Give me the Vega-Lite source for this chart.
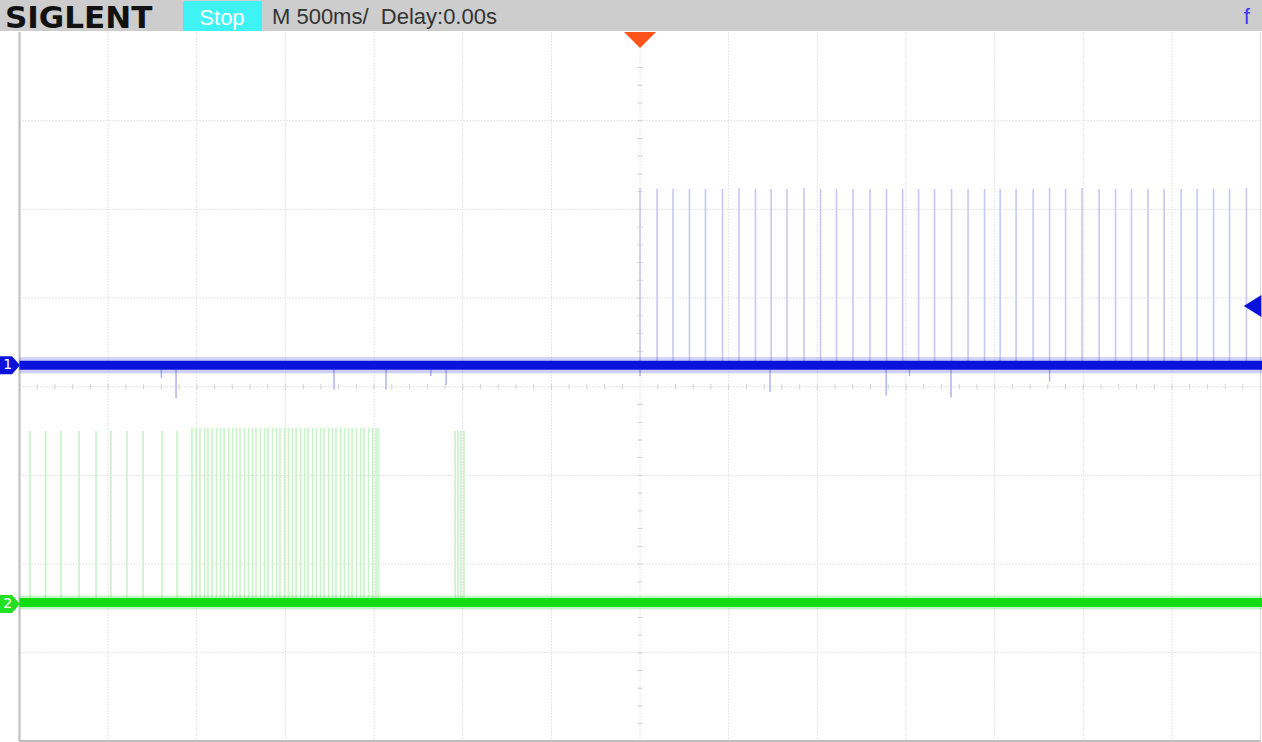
{
  "$schema": "https://vega.github.io/schema/vega-lite/v6.json",
  "width": 1262,
  "height": 742,
  "autosize": {"type": "fit", "contains": "padding"},
  "padding": 0,
  "background": "white",
  "config": {"view": {"stroke": null}},
  "datasets": {
    "vgrid": [{"t": -3.0}, {"t": -2.5}, {"t": -2.0}, {"t": -1.5}, {"t": -1.0}, {"t": -0.5}, {"t": 0.0}, {"t": 0.5}, {"t": 1.0}, {"t": 1.5}, {"t": 2.0}, {"t": 2.5}, {"t": 3.0}],
    "hgrid": [{"v": -3}, {"v": -2}, {"v": -1}, {"v": 0}, {"v": 1}, {"v": 2}, {"v": 3}],
    "xminor": [{"t": -3.4}, {"t": -3.3}, {"t": -3.2}, {"t": -3.1}, {"t": -3.0}, {"t": -2.9}, {"t": -2.8}, {"t": -2.7}, {"t": -2.6}, {"t": -2.5}, {"t": -2.4}, {"t": -2.3}, {"t": -2.2}, {"t": -2.1}, {"t": -2.0}, {"t": -1.9}, {"t": -1.8}, {"t": -1.7}, {"t": -1.6}, {"t": -1.5}, {"t": -1.4}, {"t": -1.3}, {"t": -1.2}, {"t": -1.1}, {"t": -1.0}, {"t": -0.9}, {"t": -0.8}, {"t": -0.7}, {"t": -0.6}, {"t": -0.5}, {"t": -0.4}, {"t": -0.3}, {"t": -0.2}, {"t": -0.1}, {"t": 0.1}, {"t": 0.2}, {"t": 0.3}, {"t": 0.4}, {"t": 0.5}, {"t": 0.6}, {"t": 0.7}, {"t": 0.8}, {"t": 0.9}, {"t": 1.0}, {"t": 1.1}, {"t": 1.2}, {"t": 1.3}, {"t": 1.4}, {"t": 1.5}, {"t": 1.6}, {"t": 1.7}, {"t": 1.8}, {"t": 1.9}, {"t": 2.0}, {"t": 2.1}, {"t": 2.2}, {"t": 2.3}, {"t": 2.4}, {"t": 2.5}, {"t": 2.6}, {"t": 2.7}, {"t": 2.8}, {"t": 2.9}, {"t": 3.0}, {"t": 3.1}, {"t": 3.2}, {"t": 3.3}, {"t": 3.4}],
    "yminor": [{"v": -3.8}, {"v": -3.6}, {"v": -3.4}, {"v": -3.2}, {"v": -3.0}, {"v": -2.8}, {"v": -2.6}, {"v": -2.4}, {"v": -2.2}, {"v": -2.0}, {"v": -1.8}, {"v": -1.6}, {"v": -1.4}, {"v": -1.2}, {"v": -1.0}, {"v": -0.8}, {"v": -0.6}, {"v": -0.4}, {"v": -0.2}, {"v": 0.2}, {"v": 0.4}, {"v": 0.6}, {"v": 0.8}, {"v": 1.0}, {"v": 1.2}, {"v": 1.4}, {"v": 1.6}, {"v": 1.8}, {"v": 2.0}, {"v": 2.2}, {"v": 2.4}, {"v": 2.6}, {"v": 2.8}, {"v": 3.0}, {"v": 3.2}, {"v": 3.4}, {"v": 3.6}],
    "traces": [{"ch": "1", "level": 0.243}, {"ch": "2", "level": -2.432}],
    "ch1": [
      {"t": 0.000, "peak": 2.24}, {"t": 0.096, "peak": 2.23}, {"t": 0.186, "peak": 2.23}, {"t": 0.279, "peak": 2.23},
      {"t": 0.369, "peak": 2.23}, {"t": 0.465, "peak": 2.23}, {"t": 0.558, "peak": 2.24}, {"t": 0.651, "peak": 2.23},
      {"t": 0.739, "peak": 2.23}, {"t": 0.829, "peak": 2.23}, {"t": 0.925, "peak": 2.24}, {"t": 1.018, "peak": 2.23},
      {"t": 1.108, "peak": 2.23}, {"t": 1.201, "peak": 2.23}, {"t": 1.297, "peak": 2.23}, {"t": 1.390, "peak": 2.23},
      {"t": 1.481, "peak": 2.23}, {"t": 1.571, "peak": 2.23}, {"t": 1.661, "peak": 2.23}, {"t": 1.757, "peak": 2.23},
      {"t": 1.850, "peak": 2.23}, {"t": 1.943, "peak": 2.23}, {"t": 2.031, "peak": 2.23}, {"t": 2.121, "peak": 2.23},
      {"t": 2.217, "peak": 2.23}, {"t": 2.310, "peak": 2.24}, {"t": 2.400, "peak": 2.23}, {"t": 2.493, "peak": 2.24},
      {"t": 2.589, "peak": 2.23}, {"t": 2.682, "peak": 2.23}, {"t": 2.772, "peak": 2.23}, {"t": 2.865, "peak": 2.23},
      {"t": 2.956, "peak": 2.23}, {"t": 3.052, "peak": 2.23}, {"t": 3.142, "peak": 2.23}, {"t": 3.235, "peak": 2.23},
      {"t": 3.325, "peak": 2.23}, {"t": 3.420, "peak": 2.24}
    ],
    "glitch1": [
      {"t": -2.617, "low": -0.13}, {"t": -2.70, "low": 0.10}, {"t": -1.726, "low": -0.03}, {"t": -1.433, "low": -0.03},
      {"t": -1.094, "low": 0.02}, {"t": -1.18, "low": 0.12}, {"t": 0.733, "low": -0.06}, {"t": 1.388, "low": -0.10},
      {"t": 1.754, "low": -0.12}, {"t": 2.31, "low": 0.06}, {"t": 0.0, "low": 0.12}, {"t": 1.52, "low": 0.12}
    ],
    "ch2": [
      {"t": -3.441, "peak": -0.499}, {"t": -3.353, "peak": -0.499}, {"t": -3.266, "peak": -0.499}, {"t": -3.164, "peak": -0.499},
      {"t": -3.068, "peak": -0.499}, {"t": -2.984, "peak": -0.499}, {"t": -2.894, "peak": -0.499}, {"t": -2.803, "peak": -0.499},
      {"t": -2.696, "peak": -0.499}, {"t": -2.612, "peak": -0.499},
      {"t": -2.527, "peak": -0.463}, {"t": -2.504, "peak": -0.463}, {"t": -2.482, "peak": -0.463}, {"t": -2.456, "peak": -0.463},
      {"t": -2.437, "peak": -0.463}, {"t": -2.414, "peak": -0.463}, {"t": -2.389, "peak": -0.463}, {"t": -2.366, "peak": -0.463},
      {"t": -2.346, "peak": -0.463}, {"t": -2.321, "peak": -0.463}, {"t": -2.298, "peak": -0.463}, {"t": -2.276, "peak": -0.463},
      {"t": -2.256, "peak": -0.463}, {"t": -2.231, "peak": -0.463}, {"t": -2.208, "peak": -0.463}, {"t": -2.186, "peak": -0.463},
      {"t": -2.166, "peak": -0.463}, {"t": -2.141, "peak": -0.463}, {"t": -2.118, "peak": -0.463}, {"t": -2.098, "peak": -0.463},
      {"t": -2.073, "peak": -0.463}, {"t": -2.050, "peak": -0.463}, {"t": -2.031, "peak": -0.463}, {"t": -2.005, "peak": -0.463},
      {"t": -1.983, "peak": -0.463}, {"t": -1.960, "peak": -0.463}, {"t": -1.940, "peak": -0.463}, {"t": -1.915, "peak": -0.463},
      {"t": -1.892, "peak": -0.463}, {"t": -1.873, "peak": -0.463}, {"t": -1.847, "peak": -0.463}, {"t": -1.825, "peak": -0.463},
      {"t": -1.802, "peak": -0.463}, {"t": -1.782, "peak": -0.463}, {"t": -1.757, "peak": -0.463}, {"t": -1.734, "peak": -0.463},
      {"t": -1.715, "peak": -0.463}, {"t": -1.689, "peak": -0.463}, {"t": -1.667, "peak": -0.463}, {"t": -1.644, "peak": -0.463},
      {"t": -1.624, "peak": -0.463}, {"t": -1.599, "peak": -0.463}, {"t": -1.576, "peak": -0.463}, {"t": -1.557, "peak": -0.463},
      {"t": -1.531, "peak": -0.463}, {"t": -1.509, "peak": -0.463}, {"t": -1.489, "peak": -0.463}, {"t": -1.475, "peak": -0.463},
      {"t": -1.043, "peak": -0.499}, {"t": -1.027, "peak": -0.499}, {"t": -1.010, "peak": -0.499}, {"t": -0.993, "peak": -0.499}
    ]
  },
  "layer": [
    {
      "data": {"name": "vgrid"},
      "mark": {"type": "rule", "color": "#cbcbcb", "strokeWidth": 1, "strokeDash": [1, 2], "clip": true},
      "encoding": {
        "x": {"field": "t", "type": "quantitative", "scale": {"domain": [-3.61, 3.508], "nice": false, "zero": false}, "axis": null},
        "y": {"datum": -4, "type": "quantitative", "scale": {"domain": [-4.006, 4.361], "nice": false, "zero": false}, "axis": null},
        "y2": {"datum": 4}
      }
    },
    {
      "data": {"name": "hgrid"},
      "mark": {"type": "rule", "color": "#cbcbcb", "strokeWidth": 1, "strokeDash": [1, 2], "clip": true},
      "encoding": {
        "x": {"datum": -3.5, "type": "quantitative", "scale": {"domain": [-3.61, 3.508], "nice": false, "zero": false}, "axis": null},
        "x2": {"datum": 3.5},
        "y": {"field": "v", "type": "quantitative", "scale": {"domain": [-4.006, 4.361], "nice": false, "zero": false}, "axis": null}
      }
    },
    {
      "data": {"name": "xminor"},
      "mark": {"type": "rule", "color": "#d2d2d2", "strokeWidth": 1, "clip": true},
      "encoding": {
        "x": {"field": "t", "type": "quantitative", "scale": {"domain": [-3.61, 3.508], "nice": false, "zero": false}, "axis": null},
        "y": {"datum": -0.03, "type": "quantitative", "scale": {"domain": [-4.006, 4.361], "nice": false, "zero": false}, "axis": null},
        "y2": {"datum": 0.03}
      }
    },
    {
      "data": {"name": "yminor"},
      "mark": {"type": "rule", "color": "#d2d2d2", "strokeWidth": 1, "clip": true},
      "encoding": {
        "x": {"datum": -0.015, "type": "quantitative", "scale": {"domain": [-3.61, 3.508], "nice": false, "zero": false}, "axis": null},
        "x2": {"datum": 0.015},
        "y": {"field": "v", "type": "quantitative", "scale": {"domain": [-4.006, 4.361], "nice": false, "zero": false}, "axis": null}
      }
    },
    {
      "data": {"values": [{"a": 1}]},
      "mark": {"type": "rule", "color": "#bdbdbd", "strokeWidth": 2, "clip": true},
      "encoding": {
        "x": {"datum": -3.5, "type": "quantitative", "scale": {"domain": [-3.61, 3.508], "nice": false, "zero": false}, "axis": null},
        "y": {"datum": -4, "type": "quantitative", "scale": {"domain": [-4.006, 4.361], "nice": false, "zero": false}, "axis": null},
        "y2": {"datum": 4}
      }
    },
    {
      "data": {"values": [{"a": 1}]},
      "mark": {"type": "rule", "color": "#bdbdbd", "strokeWidth": 2, "clip": true},
      "encoding": {
        "x": {"datum": -3.5, "type": "quantitative", "scale": {"domain": [-3.61, 3.508], "nice": false, "zero": false}, "axis": null},
        "x2": {"datum": 3.5},
        "y": {"datum": -3.995, "type": "quantitative", "scale": {"domain": [-4.006, 4.361], "nice": false, "zero": false}, "axis": null}
      }
    },
    {
      "data": {"values": [{"a": 1}]},
      "mark": {"type": "rule", "color": "#d6d6d6", "strokeWidth": 1, "clip": true},
      "encoding": {
        "x": {"datum": 3.5, "type": "quantitative", "scale": {"domain": [-3.61, 3.508], "nice": false, "zero": false}, "axis": null},
        "y": {"datum": -4, "type": "quantitative", "scale": {"domain": [-4.006, 4.361], "nice": false, "zero": false}, "axis": null},
        "y2": {"datum": 4}
      }
    },
    {
      "data": {"name": "ch2"},
      "mark": {"type": "rule", "color": "#c6f4c6", "strokeWidth": 1.6, "clip": true},
      "encoding": {
        "x": {"field": "t", "type": "quantitative", "scale": {"domain": [-3.61, 3.508], "nice": false, "zero": false}, "axis": null},
        "y": {"field": "peak", "type": "quantitative", "scale": {"domain": [-4.006, 4.361], "nice": false, "zero": false}, "axis": null},
        "y2": {"datum": -2.432}
      }
    },
    {
      "data": {"name": "ch1"},
      "mark": {"type": "rule", "color": "#c6c8f5", "strokeWidth": 1.6, "clip": true},
      "encoding": {
        "x": {"field": "t", "type": "quantitative", "scale": {"domain": [-3.61, 3.508], "nice": false, "zero": false}, "axis": null},
        "y": {"field": "peak", "type": "quantitative", "scale": {"domain": [-4.006, 4.361], "nice": false, "zero": false}, "axis": null},
        "y2": {"datum": 0.243}
      }
    },
    {
      "data": {"name": "glitch1"},
      "mark": {"type": "rule", "color": "#a9acf0", "strokeWidth": 1.4, "clip": true},
      "encoding": {
        "x": {"field": "t", "type": "quantitative", "scale": {"domain": [-3.61, 3.508], "nice": false, "zero": false}, "axis": null},
        "y": {"field": "low", "type": "quantitative", "scale": {"domain": [-4.006, 4.361], "nice": false, "zero": false}, "axis": null},
        "y2": {"datum": 0.243}
      }
    },
    {
      "data": {"name": "traces"},
      "transform": [{"filter": "datum.ch == '1'"}],
      "mark": {"type": "rule", "color": "#3d44ea", "strokeWidth": 16, "opacity": 0.25, "clip": true},
      "encoding": {
        "x": {"datum": -3.5, "type": "quantitative", "scale": {"domain": [-3.61, 3.508], "nice": false, "zero": false}, "axis": null},
        "x2": {"datum": 3.508},
        "y": {"field": "level", "type": "quantitative", "scale": {"domain": [-4.006, 4.361], "nice": false, "zero": false}, "axis": null}
      }
    },
    {
      "data": {"name": "traces"},
      "transform": [{"filter": "datum.ch == '1'"}],
      "mark": {"type": "rule", "color": "#0a12dc", "strokeWidth": 9, "clip": true},
      "encoding": {
        "x": {"datum": -3.5, "type": "quantitative", "scale": {"domain": [-3.61, 3.508], "nice": false, "zero": false}, "axis": null},
        "x2": {"datum": 3.508},
        "y": {"field": "level", "type": "quantitative", "scale": {"domain": [-4.006, 4.361], "nice": false, "zero": false}, "axis": null}
      }
    },
    {
      "data": {"name": "traces"},
      "transform": [{"filter": "datum.ch == '2'"}],
      "mark": {"type": "rule", "color": "#3fe33f", "strokeWidth": 14, "opacity": 0.3, "clip": true},
      "encoding": {
        "x": {"datum": -3.5, "type": "quantitative", "scale": {"domain": [-3.61, 3.508], "nice": false, "zero": false}, "axis": null},
        "x2": {"datum": 3.508},
        "y": {"field": "level", "type": "quantitative", "scale": {"domain": [-4.006, 4.361], "nice": false, "zero": false}, "axis": null}
      }
    },
    {
      "data": {"name": "traces"},
      "transform": [{"filter": "datum.ch == '2'"}],
      "mark": {"type": "rule", "color": "#14dc14", "strokeWidth": 9, "clip": true},
      "encoding": {
        "x": {"datum": -3.5, "type": "quantitative", "scale": {"domain": [-3.61, 3.508], "nice": false, "zero": false}, "axis": null},
        "x2": {"datum": 3.508},
        "y": {"field": "level", "type": "quantitative", "scale": {"domain": [-4.006, 4.361], "nice": false, "zero": false}, "axis": null}
      }
    },
    {
      "data": {"values": [{"ch": "1", "level": 0.243}]},
      "mark": {"type": "point", "shape": "M-1,-0.9L0.2,-0.9L1,0L0.2,0.9L-1,0.9Z", "filled": true, "color": "#0a12dc", "size": 400, "opacity": 1, "clip": true},
      "encoding": {
        "x": {"datum": -3.5535, "type": "quantitative", "scale": {"domain": [-3.61, 3.508], "nice": false, "zero": false}, "axis": null},
        "y": {"field": "level", "type": "quantitative", "scale": {"domain": [-4.006, 4.361], "nice": false, "zero": false}, "axis": null}
      }
    },
    {
      "data": {"values": [{"ch": "2", "level": -2.45}]},
      "mark": {"type": "point", "shape": "M-1,-0.9L0.2,-0.9L1,0L0.2,0.9L-1,0.9Z", "filled": true, "color": "#22e022", "size": 400, "opacity": 1, "clip": true},
      "encoding": {
        "x": {"datum": -3.5535, "type": "quantitative", "scale": {"domain": [-3.61, 3.508], "nice": false, "zero": false}, "axis": null},
        "y": {"field": "level", "type": "quantitative", "scale": {"domain": [-4.006, 4.361], "nice": false, "zero": false}, "axis": null}
      }
    },
    {
      "data": {"values": [{"ch": "1", "level": 0.243}, {"ch": "2", "level": -2.45}]},
      "mark": {"type": "text", "color": "white", "font": "DejaVu Sans", "fontSize": 14, "align": "center", "baseline": "middle"},
      "encoding": {
        "x": {"datum": -3.566, "type": "quantitative", "scale": {"domain": [-3.61, 3.508], "nice": false, "zero": false}, "axis": null},
        "y": {"field": "level", "type": "quantitative", "scale": {"domain": [-4.006, 4.361], "nice": false, "zero": false}, "axis": null},
        "text": {"field": "ch"}
      }
    },
    {
      "data": {"values": [{"level": 0.911}]},
      "mark": {"type": "point", "shape": "M-0.8,0L0.8,-1L0.8,1Z", "filled": true, "color": "#0a12dc", "size": 484, "opacity": 1, "clip": true},
      "encoding": {
        "x": {"datum": 3.4548, "type": "quantitative", "scale": {"domain": [-3.61, 3.508], "nice": false, "zero": false}, "axis": null},
        "y": {"field": "level", "type": "quantitative", "scale": {"domain": [-4.006, 4.361], "nice": false, "zero": false}, "axis": null}
      }
    },
    {
      "data": {"values": [{"a": 1}]},
      "mark": {"type": "rect", "color": "#cdcdcd", "clip": true},
      "encoding": {
        "x": {"datum": -3.61, "type": "quantitative", "scale": {"domain": [-3.61, 3.508], "nice": false, "zero": false}, "axis": null},
        "x2": {"datum": 3.508},
        "y": {"datum": 4.011, "type": "quantitative", "scale": {"domain": [-4.006, 4.361], "nice": false, "zero": false}, "axis": null},
        "y2": {"datum": 4.361}
      }
    },
    {
      "data": {"values": [{"a": 1}]},
      "mark": {"type": "rect", "color": "#3ff3f5", "clip": true},
      "encoding": {
        "x": {"datum": -2.578, "type": "quantitative", "scale": {"domain": [-3.61, 3.508], "nice": false, "zero": false}, "axis": null},
        "x2": {"datum": -2.132},
        "y": {"datum": 4.011, "type": "quantitative", "scale": {"domain": [-4.006, 4.361], "nice": false, "zero": false}, "axis": null},
        "y2": {"datum": 4.35}
      }
    },
    {
      "data": {"values": [{"label": "SIGLENT"}]},
      "mark": {"type": "text", "color": "#111111", "font": "DejaVu Sans", "fontWeight": "bold", "fontSize": 31, "align": "left", "baseline": "alphabetic"},
      "encoding": {
        "x": {"datum": -3.582, "type": "quantitative", "scale": {"domain": [-3.61, 3.508], "nice": false, "zero": false}, "axis": null},
        "y": {"datum": 4.045, "type": "quantitative", "scale": {"domain": [-4.006, 4.361], "nice": false, "zero": false}, "axis": null},
        "text": {"field": "label"}
      }
    },
    {
      "data": {"values": [{"label": "Stop"}]},
      "mark": {"type": "text", "color": "white", "font": "Liberation Sans", "fontSize": 22, "align": "center", "baseline": "alphabetic"},
      "encoding": {
        "x": {"datum": -2.358, "type": "quantitative", "scale": {"domain": [-3.61, 3.508], "nice": false, "zero": false}, "axis": null},
        "y": {"datum": 4.079, "type": "quantitative", "scale": {"domain": [-4.006, 4.361], "nice": false, "zero": false}, "axis": null},
        "text": {"field": "label"}
      }
    },
    {
      "data": {"values": [{"label": "M 500ms/\u00a0 Delay:0.00s"}]},
      "mark": {"type": "text", "color": "#333333", "font": "Liberation Sans", "fontSize": 22, "align": "left", "baseline": "alphabetic"},
      "encoding": {
        "x": {"datum": -2.076, "type": "quantitative", "scale": {"domain": [-3.61, 3.508], "nice": false, "zero": false}, "axis": null},
        "y": {"datum": 4.09, "type": "quantitative", "scale": {"domain": [-4.006, 4.361], "nice": false, "zero": false}, "axis": null},
        "text": {"field": "label"}
      }
    },
    {
      "data": {"values": [{"label": "f"}]},
      "mark": {"type": "text", "color": "#3a3af5", "font": "Liberation Sans", "fontSize": 22, "align": "left", "baseline": "alphabetic"},
      "encoding": {
        "x": {"datum": 3.405, "type": "quantitative", "scale": {"domain": [-3.61, 3.508], "nice": false, "zero": false}, "axis": null},
        "y": {"datum": 4.09, "type": "quantitative", "scale": {"domain": [-4.006, 4.361], "nice": false, "zero": false}, "axis": null},
        "text": {"field": "label"}
      }
    },
    {
      "data": {"values": [{"level": 3.91}]},
      "mark": {"type": "point", "shape": "M-1,-0.5L1,-0.5L0,0.5Z", "filled": true, "color": "#ff531c", "size": 1024, "opacity": 1, "clip": true},
      "encoding": {
        "x": {"datum": 0, "type": "quantitative", "scale": {"domain": [-3.61, 3.508], "nice": false, "zero": false}, "axis": null},
        "y": {"field": "level", "type": "quantitative", "scale": {"domain": [-4.006, 4.361], "nice": false, "zero": false}, "axis": null}
      }
    }
  ]
}
